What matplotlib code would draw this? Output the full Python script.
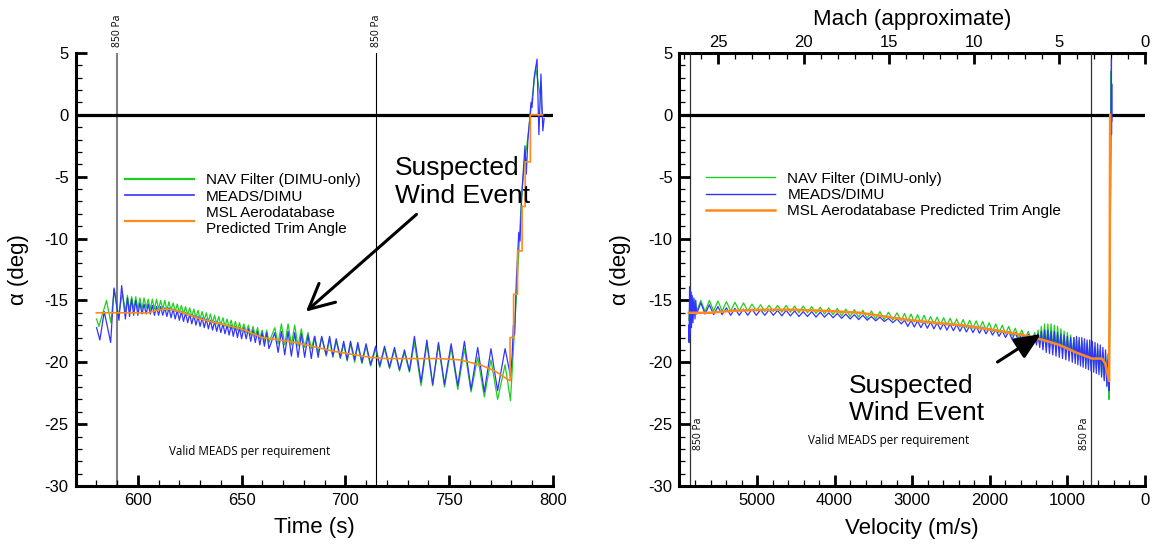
import matplotlib
matplotlib.use("Agg")
import matplotlib.pyplot as plt
from matplotlib.lines import Line2D
from matplotlib.ticker import MultipleLocator

plt.rcParams["font.family"] = ["Liberation Sans", "DejaVu Sans"]
plt.rcParams["axes.unicode_minus"] = False

# ---------------- panel izquierdo: alfa vs tiempo ----------------
# arranque (oscilaciones grandes) de cada serie
nav_t0 = [580.1, 581.2, 584.9, 587.0, 588.6, 590.6, 592.5]
nav_a0 = [-16.5, -17.1, -15.0, -16.8, -14.1, -16.3, -14.4]
meads_t0 = [580.1, 581.7, 583.8, 586.9, 588.5, 590.9, 592.2]
meads_a0 = [-17.2, -18.2, -15.9, -18.4, -14.0, -16.6, -13.8]

# extremos (valle/pico) comunes a las dos medidas
t_osc = [594, 595, 596, 597, 598, 599, 600, 601, 602, 603, 604, 605, 606, 607, 608, 609,
         610, 611, 612, 613, 614, 615, 616, 617, 618, 619, 620, 621, 622, 623, 624, 625,
         626, 627, 628, 629, 630, 631, 632, 633, 634, 635, 636, 637, 638, 639, 640, 641,
         642, 643, 644, 645, 646, 647, 648, 649, 650,
         651.1, 652.2, 653.3, 654.4, 655.5, 656.6, 657.7, 658.8, 659.9, 661.0, 662.1, 663.2,
         666.0, 667.6, 669.2, 670.8, 672.4, 674.0, 675.6, 677.2, 678.8, 680.4, 682.0, 683.6,
         685.2, 686.9, 688.6, 690.8, 692.4, 694.0, 695.6, 697.6, 699.2, 700.9, 702.5, 704.5,
         706.0, 708.0, 710.0, 712.2, 714.6, 716.6, 718.9, 721.3, 723.7, 726.1, 728.5, 730.9,
         733.3, 736.5, 739.3, 742.1, 744.9, 747.8, 751.0, 754.2, 757.4, 760.6, 763.8, 767.0,
         770.2, 773.4, 777.0, 779.6]
nav_osc = [-15.9, -14.6, -15.8, -14.7, -15.7, -14.7, -15.7, -14.8, -15.7, -14.8, -15.6, -14.9,
           -15.7, -14.9, -15.7, -14.9, -15.7, -15.0, -15.7, -15.0, -15.8, -15.1, -15.8, -15.2,
           -15.9, -15.3, -16.0, -15.4, -16.1, -15.5, -16.2, -15.6, -16.3, -15.7, -16.4, -15.8,
           -16.5, -15.9, -16.6, -16.0, -16.7, -16.1, -16.8, -16.2, -16.9, -16.3, -17.0, -16.4,
           -17.1, -16.5, -17.2, -16.6, -17.3, -16.7, -17.4, -16.8, -17.5,
           -16.9, -17.6, -17.0, -17.8, -17.1, -17.9, -17.2, -18.1, -17.4, -18.3, -17.4, -18.4,
           -17.2, -18.5, -16.9, -18.6, -16.9, -18.6, -17.0, -18.7, -17.3, -18.8, -17.6, -18.9,
           -17.9, -19.2, -18.0, -19.5, -18.1, -19.6, -18.3, -19.7, -18.5, -19.9, -18.5, -20.0,
           -18.6, -20.1, -18.7, -20.3, -18.9, -20.4, -18.9, -20.5, -19.0, -20.7, -19.2, -20.8,
           -18.4, -21.9, -18.5, -21.9, -18.6, -22.0, -18.8, -22.2, -18.9, -22.4, -19.6, -22.8,
           -19.8, -23.0, -20.2, -23.1]
meads_osc = [-16.5, -14.8, -16.3, -14.9, -16.2, -15.0, -16.2, -15.2, -16.1, -15.3, -16.1, -15.3,
             -16.1, -15.4, -16.2, -15.5, -16.2, -15.5, -16.2, -15.6, -16.3, -15.6, -16.4, -15.7,
             -16.5, -15.8, -16.6, -15.9, -16.7, -16.0, -16.8, -16.1, -16.9, -16.2, -17.0, -16.3,
             -17.1, -16.4, -17.2, -16.5, -17.3, -16.6, -17.4, -16.7, -17.5, -16.8, -17.6, -16.9,
             -17.7, -17.0, -17.8, -17.0, -17.9, -17.1, -18.0, -17.2, -18.1,
             -17.2, -18.1, -17.3, -18.3, -17.4, -18.4, -17.5, -18.6, -17.6, -18.7, -17.6, -18.9,
             -17.6, -19.2, -17.5, -19.4, -17.5, -19.5, -17.6, -19.6, -17.7, -19.6, -17.8, -19.7,
             -17.9, -19.6, -17.9, -19.4, -17.9, -19.5, -18.1, -19.6, -18.3, -19.8, -18.3, -19.8,
             -18.4, -20.0, -18.5, -20.2, -18.7, -20.3, -18.7, -20.4, -18.8, -20.6, -19.0, -20.7,
             -17.9, -21.6, -18.2, -21.8, -18.4, -21.8, -18.5, -21.9, -18.3, -22.2, -18.8, -22.4,
             -18.9, -22.3, -18.9, -21.1]

# subida final
nav_t1 = [780.5, 781.5, 782.5, 783.5, 784.5, 785.5, 786.5, 787.5, 788.5, 789.5, 790.5,
          791.8, 793.0, 794.0, 795.0]
nav_a1 = [-20.5, -17.5, -14.5, -11.5, -8.0, -5.5, -3.5, -2.5, -1.0, 0.5, 2.0, 3.8, 2.5, 1.5, 0.0]
meads_t1 = [780.4, 781.0, 781.6, 782.4, 783.0, 783.6, 784.2, 785.0, 785.8, 786.6, 787.2,
            788.0, 788.8, 789.5, 790.0, 791.0, 792.4, 793.3, 794.3, 795.2, 795.8]
meads_a1 = [-19.5, -17.0, -17.8, -13.5, -11.5, -9.5, -10.2, -6.5, -4.5, -2.5, -4.8,
            -2.0, -0.5, 1.0, 0.6, 3.0, 4.5, -1.6, 3.3, -1.3, -0.3]

msl_t = [580, 605, 610, 614, 618, 622, 630, 640, 650, 660, 676, 694, 712, 720, 745, 755, 765,
         772, 779.4, 779.4, 781.1, 781.1, 783.0, 783.0, 785.2, 785.2, 786.7, 786.7, 789.2,
         789.2, 795.1]
msl_a = [-16.0, -16.0, -15.75, -15.7, -15.8, -16.0, -16.5, -16.9, -17.3, -18.0, -18.4, -19.1,
         -19.6, -19.7, -19.7, -19.8, -20.2, -20.7, -21.5, -18.0, -18.0, -14.5, -14.5, -11.0,
         -11.0, -7.4, -7.4, -3.8, -3.8, 0.0, 0.0]

t_850 = [590, 715]

# ---------------- panel derecho: alfa vs velocidad ----------------
nav_v0 = [5880, 5866, 5852, 5836, 5820, 5800]
nav_b0 = [-16.6, -15.3, -16.6, -14.9, -16.2, -14.95]
meads_v0 = [5880, 5876, 5870, 5862, 5854, 5845, 5836, 5826, 5815, 5800, 5790]
meads_b0 = [-17.0, -18.4, -13.9, -17.7, -14.3, -17.2, -14.6, -16.8, -14.8, -16.5, -15.0]

v_osc = [5780, 5725, 5670, 5615, 5560, 5505, 5450, 5395, 5340, 5285, 5230, 5175, 5120, 5065,
         5010, 4955, 4900, 4845, 4790, 4735, 4680, 4625, 4570, 4515, 4460, 4405, 4350, 4295,
         4240, 4185, 4130, 4075, 4020, 3965, 3910, 3855, 3800, 3745, 3690, 3635, 3580, 3525,
         3470, 3415, 3360, 3305, 3250, 3195, 3140,
         3098, 3056, 3014, 2972, 2930, 2888, 2846, 2804, 2762, 2720, 2678, 2636, 2594, 2552,
         2510, 2468, 2426, 2384, 2342, 2300, 2258, 2216, 2174, 2132, 2090, 2048, 2006, 1964,
         1922, 1880, 1838, 1796, 1754, 1712, 1670, 1628, 1586, 1544, 1502, 1460, 1418,
         1397, 1376, 1355, 1334, 1313, 1292, 1271, 1250, 1229, 1208, 1187, 1166, 1145, 1124,
         1103, 1082, 1061, 1040, 1019, 998, 977, 956, 935, 914,
         897, 880, 863, 846, 829, 812, 795, 778, 761, 744, 727, 710, 693, 676, 659, 642, 625,
         608, 591, 574, 557, 540, 523, 506, 489, 472]
nav_vosc = [-15.9, -15.0, -15.9, -15.0, -15.85, -15.05, -15.85, -15.1, -15.85, -15.15, -15.85,
            -15.2, -15.85, -15.3, -15.85, -15.35, -15.9, -15.4, -15.9, -15.4, -15.95, -15.4,
            -15.95, -15.45, -16.0, -15.45, -16.0, -15.5, -16.05, -15.55, -16.1, -15.6, -16.15,
            -15.65, -16.25, -15.7, -16.3, -15.75, -16.35, -15.8, -16.45, -15.85, -16.5, -15.9,
            -16.55, -15.95, -16.6, -16.0, -16.65,
            -16.05, -16.7, -16.1, -16.75, -16.15, -16.8, -16.2, -16.85, -16.3, -16.9, -16.35,
            -16.95, -16.4, -17.0, -16.45, -17.05, -16.5, -17.15, -16.55, -17.2, -16.6, -17.25,
            -16.65, -17.3, -16.7, -17.4, -16.8, -17.5, -16.9, -17.6, -17.0, -17.7, -17.1,
            -17.85, -17.25, -18.0, -17.4, -18.1, -17.5, -18.3, -17.6,
            -18.4, -17.4, -18.5, -17.1, -18.6, -16.9, -18.7, -16.9, -18.8, -16.9, -18.9, -17.0,
            -18.9, -17.1, -19.0, -17.3, -19.1, -17.5, -19.2, -17.6, -19.3, -17.8, -19.4, -18.0,
            -19.7, -18.2, -19.8, -18.3, -19.9, -18.3, -20.0, -18.4, -20.1, -18.5, -20.2, -18.6,
            -20.3, -18.7, -20.4, -18.8, -20.5, -18.9, -20.7, -19.0, -21.0, -19.2, -21.4, -19.4,
            -22.0, -19.8]
meads_vosc = [-16.1, -15.2, -16.1, -15.35, -16.15, -15.5, -16.15, -15.6, -16.2, -15.65, -16.2,
              -15.7, -16.2, -15.7, -16.2, -15.75, -16.2, -15.75, -16.2, -15.8, -16.25, -15.8,
              -16.25, -15.85, -16.3, -15.9, -16.3, -15.9, -16.35, -15.95, -16.35, -16.0, -16.4,
              -16.05, -16.45, -16.1, -16.5, -16.15, -16.55, -16.2, -16.6, -16.3, -16.65, -16.35,
              -16.7, -16.45, -16.8, -16.5, -16.9,
              -16.6, -17.1, -16.62, -17.15, -16.65, -17.2, -16.7, -17.25, -16.75, -17.3, -16.8,
              -17.35, -16.85, -17.4, -16.9, -17.45, -16.95, -17.5, -17.0, -17.55, -17.05, -17.6,
              -17.1, -17.65, -17.15, -17.7, -17.25, -17.8, -17.35, -17.9, -17.45, -18.0, -17.5,
              -18.15, -17.6, -18.3, -17.7, -18.4, -17.75, -18.5, -17.8,
              -18.6, -17.7, -18.8, -17.5, -19.0, -17.4, -19.2, -17.4, -19.3, -17.5, -19.4, -17.5,
              -19.5, -17.6, -19.6, -17.7, -19.7, -17.8, -19.8, -17.9, -19.9, -18.0, -20.0, -18.0,
              -20.1, -17.9, -20.2, -18.0, -20.3, -18.0, -20.4, -18.1, -20.5, -18.2, -20.6, -18.2,
              -20.7, -18.3, -20.8, -18.4, -20.9, -18.5, -21.0, -18.6, -21.2, -18.8, -21.5, -19.0,
              -21.9, -19.3]

nav_v1 = [462, 448, 440, 436, 433]
nav_b1 = [-23.0, -15.0, -3.0, 3.5, 0.0]
meads_v1 = [462, 450, 440, 433, 430, 429, 427, 426]
meads_b1 = [-22.3, -14.0, -4.0, 1.0, 4.5, -1.6, 2.5, -0.5]

msl_v = [5880, 5600, 5360, 4940, 4520, 4100, 3670, 3250, 3080, 2790, 2365, 1945, 1605, 1310,
         1100, 890, 700, 680, 550, 510, 478, 460, 452, 447]
msl_b = [-16.0, -16.0, -15.85, -15.75, -15.75, -15.85, -16.0, -16.4, -16.55, -16.75, -17.0,
         -17.4, -17.75, -18.2, -18.6, -19.2, -19.65, -19.7, -19.7, -20.1, -21.0, -21.5, -12.0, 0.0]

v_850 = [5870, 690]

verde = "#1fcf1f"
azul = "#3333ff"
naranja = "#ff8a1c"

fig = plt.figure(figsize=(11.56, 5.44), dpi=100)
ax1 = fig.add_axes([0.0654, 0.1066, 0.4128, 0.796])
ax2 = fig.add_axes([0.5878, 0.1066, 0.4025, 0.796])


def estilo(ax):
    ax.set_ylim(-30, 5)
    ax.yaxis.set_major_locator(MultipleLocator(5))
    ax.yaxis.set_minor_locator(MultipleLocator(1))
    for lado in ["top", "right"]:
        ax.spines[lado].set_visible(False)
    for lado in ["left", "bottom"]:
        ax.spines[lado].set_linewidth(2.2)
    ax.tick_params(which="major", direction="in", length=8, width=2, labelsize=12, pad=5)
    ax.tick_params(which="minor", direction="in", length=4.5, width=0.9)
    ax.axhline(0, color="black", lw=2.3, zorder=1.5)
    ax.set_ylabel("\u03b1 (deg)", fontsize=16)


# ---- izquierdo
estilo(ax1)
ax1.set_xlim(570, 800)
ax1.set_xticks([600, 650, 700, 750, 800])
ax1.xaxis.set_minor_locator(MultipleLocator(10))
ax1.yaxis.set_label_coords(-0.098, 0.5)
ax1.set_xlabel("Time (s)", fontsize=16)
ax1.xaxis.set_label_coords(0.5, -0.072)

ax1.axvline(t_850[0], color="#808080", lw=1.5, zorder=1)
ax1.axvline(t_850[1], color="black", lw=0.8, zorder=1)
for t in t_850:
    ax1.text(t, 5.45, "850 Pa", rotation=90, ha="center", va="bottom", fontsize=7.5,
             family=["Open Sans", "DejaVu Sans"], clip_on=False)

ax1.plot(nav_t0 + t_osc + nav_t1, nav_a0 + nav_osc + nav_a1, color=verde, lw=0.9, zorder=2)
ax1.plot(meads_t0 + t_osc + meads_t1, meads_a0 + meads_osc + meads_a1, color=azul, lw=0.9, zorder=2.1)
ax1.plot(msl_t, msl_a, color=naranja, lw=1.2, zorder=2.2)

ax1.text(654, -27.2, "Valid MEADS per requirement", ha="center", va="center", fontsize=8.4,
         family=["Open Sans", "DejaVu Sans"])
ax1.text(724, -5.45, "Suspected\nWind Event", ha="left", va="center", fontsize=19)
ax1.annotate("", xy=(680, -16.05), xytext=(735.3, -7.9),
             arrowprops=dict(arrowstyle="->,head_length=0.9,head_width=0.45", lw=2.2,
                             color="black", mutation_scale=20))

mano = [Line2D([], [], color=verde, lw=1.6), Line2D([], [], color=azul, lw=1.2),
        Line2D([], [], color=naranja, lw=1.6)]
ax1.legend(mano, ["NAV Filter (DIMU-only)", "MEADS/DIMU", "MSL Aerodatabase\nPredicted Trim Angle"],
           loc="upper left", bbox_to_anchor=(0.103, 0.722), frameon=False, fontsize=11,
           handlelength=4.5, handletextpad=0.8, labelspacing=0.15, borderpad=0,
           borderaxespad=0)

# ---- derecho
estilo(ax2)
ax2.set_xlim(6000, 0)
ax2.set_xticks([5000, 4000, 3000, 2000, 1000, 0])
ax2.xaxis.set_minor_locator(MultipleLocator(200))
ax2.yaxis.set_label_coords(-0.105, 0.5)
ax2.set_xlabel("Velocity (m/s)", fontsize=16)
ax2.xaxis.set_label_coords(0.5, -0.075)

mach = ax2.secondary_xaxis("top", functions=(lambda v: v / 220.0, lambda m: m * 220.0))
mach.set_xticks([25, 20, 15, 10, 5, 0])
mach.xaxis.set_minor_locator(MultipleLocator(1))
mach.spines["top"].set_linewidth(2.2)
mach.tick_params(which="major", direction="in", length=8, width=2, labelsize=12, pad=2)
mach.tick_params(which="minor", direction="in", length=4.5, width=0.9)
ax2.text(0.5, 1.077, "Mach (approximate)", transform=ax2.transAxes, ha="center",
         va="center", fontsize=16)

for v in v_850:
    ax2.axvline(v, color="#333333", lw=0.9, zorder=1)
ax2.text(v_850[0] - 110, -27.1, "850 Pa", rotation=90, ha="center", va="bottom", fontsize=7.5,
         family=["Open Sans", "DejaVu Sans"])
ax2.text(v_850[1] + 90, -27.1, "850 Pa", rotation=90, ha="center", va="bottom", fontsize=7.5,
         family=["Open Sans", "DejaVu Sans"])

ax2.plot(nav_v0 + v_osc + nav_v1, nav_b0 + nav_vosc + nav_b1, color=verde, lw=0.9, zorder=2)
ax2.plot(meads_v0 + v_osc + meads_v1, meads_b0 + meads_vosc + meads_b1, color=azul, lw=0.9, zorder=2.1)
ax2.plot(msl_v, msl_b, color=naranja, lw=1.8, zorder=2.2)

ax2.text(3305, -26.3, "Valid MEADS per requirement", ha="center", va="center", fontsize=8.4,
         family=["Open Sans", "DejaVu Sans"])
ax2.text(3816, -23.0, "Suspected\nWind Event", ha="left", va="center", fontsize=19)
ax2.annotate("", xy=(1310, -17.6), xytext=(1930, -20.1),
             arrowprops=dict(arrowstyle="-|>,head_length=0.8,head_width=0.35", lw=2.2,
                             color="black", mutation_scale=20))

mano2 = [Line2D([], [], color=verde, lw=1.0), Line2D([], [], color=azul, lw=1.0),
         Line2D([], [], color=naranja, lw=1.8)]
ax2.legend(mano2, ["NAV Filter (DIMU-only)", "MEADS/DIMU", "MSL Aerodatabase Predicted Trim Angle"],
           loc="upper left", bbox_to_anchor=(0.058, 0.726), frameon=False, fontsize=11,
           handlelength=4.5, handletextpad=0.8, labelspacing=0.15, borderpad=0,
           borderaxespad=0)

fig.savefig("out.png", dpi=100)
